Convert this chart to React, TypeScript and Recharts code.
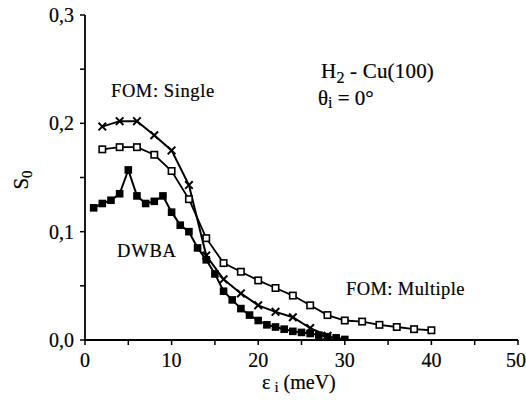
import React from "react";
import { LineChart, Line, XAxis, YAxis } from "recharts";

// DWBA (filled squares), 1 meV steps
const dwbaEnergy = [1, 2, 3, 4, 5, 6, 7, 8, 9, 10, 11, 12, 13, 14, 15, 16, 17, 18, 19, 20, 21, 22, 23, 24, 25, 26, 27, 28, 29, 30];
const dwbaS0 = [0.122, 0.126, 0.129, 0.135, 0.157, 0.133, 0.126, 0.128, 0.133, 0.118, 0.106, 0.1, 0.085, 0.074, 0.061, 0.045, 0.037, 0.029, 0.023, 0.018, 0.014, 0.012, 0.01, 0.008, 0.007, 0.006, 0.0045, 0.003, 0.002, 0.0005];

// FOM: Single (crosses)
const singleEnergy = [2, 4, 6, 8, 10, 12, 14, 16, 18, 20, 22, 24, 26, 28];
const singleS0 = [0.197, 0.202, 0.202, 0.189, 0.175, 0.143, 0.078, 0.056, 0.043, 0.032, 0.026, 0.021, 0.011, 0.004];

// FOM: Multiple (open squares)
const multipleEnergy = [2, 4, 6, 8, 10, 12, 14, 16, 18, 20, 22, 24, 26, 28, 30, 32, 34, 36, 38, 40];
const multipleS0 = [0.176, 0.178, 0.178, 0.171, 0.156, 0.13, 0.094, 0.071, 0.063, 0.055, 0.048, 0.041, 0.032, 0.023, 0.018, 0.017, 0.014, 0.012, 0.01, 0.009];

const xTicks = [0, 5, 10, 15, 20, 25, 30, 35, 40, 45, 50];
const yTicks = [0, 0.05, 0.1, 0.15, 0.2, 0.25, 0.3];

const toRows = (xs: number[], ys: number[]) => xs.map((x, i) => ({ x, y: ys[i] }));

const dwbaData = toRows(dwbaEnergy, dwbaS0);
const singleData = toRows(singleEnergy, singleS0);
const multipleData = toRows(multipleEnergy, multipleS0);

const FONT = "Liberation Serif, DejaVu Serif, serif";

const filledSquare = (p: any) => (
  <rect key={`f${p.index}`} x={p.cx - 3.8} y={p.cy - 3.8} width={7.6} height={7.6} fill="#000" />
);
const openSquare = (p: any) => (
  <rect key={`o${p.index}`} x={p.cx - 3.2} y={p.cy - 3.2} width={6.4} height={6.4} fill="#fff" stroke="#000" strokeWidth={1.6} />
);
const cross = (p: any) => (
  <path key={`c${p.index}`} d={`M${p.cx - 3.8},${p.cy - 3.8}L${p.cx + 3.8},${p.cy + 3.8}M${p.cx - 3.8},${p.cy + 3.8}L${p.cx + 3.8},${p.cy - 3.8}`} stroke="#000" strokeWidth={2} />
);

const xFmt = (v: number) => (v % 10 === 0 ? String(v) : "");
const yFmt = (v: number) => (Math.round(v * 100) % 10 === 0 ? v.toFixed(1).replace(".", ",") : "");

export default function App() {
  const tick = { fontSize: 20, fill: "#000", fontFamily: FONT, stroke: "#000", strokeWidth: 0.2 };
  return (
    <div style={{ position: "absolute", left: 0, top: 0, width: 526, height: 402, background: "#fff", fontFamily: FONT }}>
      <LineChart width={526} height={402} margin={{ top: 15, right: 8, left: 0, bottom: 0 }}>
        <XAxis
          xAxisId="b"
          type="number"
          dataKey="x"
          domain={[0, 50]}
          ticks={xTicks}
          tickFormatter={xFmt}
          tick={tick}
          height={62}
          tickSize={5}
          tickMargin={8}
          axisLine={{ stroke: "#000", strokeWidth: 1.8 }}
          tickLine={{ stroke: "#000", strokeWidth: 1.5 }}
          allowDataOverflow
        />
        <XAxis xAxisId="t" orientation="top" type="number" dataKey="x" domain={[0, 50]} height={0} tick={false} tickLine={false} axisLine={{ stroke: "#000", strokeWidth: 1.8 }} />
        <YAxis
          yAxisId="l"
          type="number"
          domain={[0, 0.3]}
          ticks={yTicks}
          tickFormatter={yFmt}
          tick={tick}
          width={85}
          tickSize={5}
          tickMargin={6}
          axisLine={{ stroke: "#000", strokeWidth: 1.8 }}
          tickLine={{ stroke: "#000", strokeWidth: 1.5 }}
          allowDataOverflow
        />
        <YAxis yAxisId="r" orientation="right" type="number" domain={[0, 0.3]} width={0} tick={false} tickLine={false} axisLine={{ stroke: "#000", strokeWidth: 1.8 }} />
        <Line xAxisId="b" yAxisId="l" data={dwbaData} dataKey="y" type="linear" stroke="#000" strokeWidth={2} dot={filledSquare} isAnimationActive={false} />
        <Line xAxisId="b" yAxisId="l" data={singleData} dataKey="y" type="linear" stroke="#000" strokeWidth={2} dot={cross} isAnimationActive={false} />
        <Line xAxisId="b" yAxisId="l" data={multipleData} dataKey="y" type="linear" stroke="#000" strokeWidth={1.8} dot={openSquare} isAnimationActive={false} />
      </LineChart>
      <svg width={526} height={402} style={{ position: "absolute", left: 0, top: 0, pointerEvents: "none", fontFamily: FONT }} fill="#000" stroke="#000" strokeWidth={0.2}>
        <text x={111} y={97} fontSize={18.5} letterSpacing={0.6}>FOM: Single</text>
        <text x={117} y={257} fontSize={18.5} letterSpacing={0.8}>DWBA</text>
        <text x={346} y={295} fontSize={18.5} letterSpacing={0.4}>FOM: Multiple</text>
        <text x={321} y={78} fontSize={21} letterSpacing={0.2}>
          H<tspan fontSize={16} dy={5}>2</tspan>
          <tspan dy={-5}> - Cu(100)</tspan>
        </text>
        <text x={318} y={105} fontSize={21}>
          θ<tspan fontSize={16} dy={3}>i</tspan>
          <tspan dy={-3}> = 0°</tspan>
        </text>
        <text x={28} y={180} fontSize={21} transform="rotate(-90 28 180)" textAnchor="middle">
          S<tspan fontSize={15} dy={4}>0</tspan>
        </text>
        <text x={262} y={389} fontSize={20}>
          ε<tspan fontSize={15} dx={4} dy={3}>i</tspan>
          <tspan dy={-3}> (meV)</tspan>
        </text>
      </svg>
    </div>
  );
}
